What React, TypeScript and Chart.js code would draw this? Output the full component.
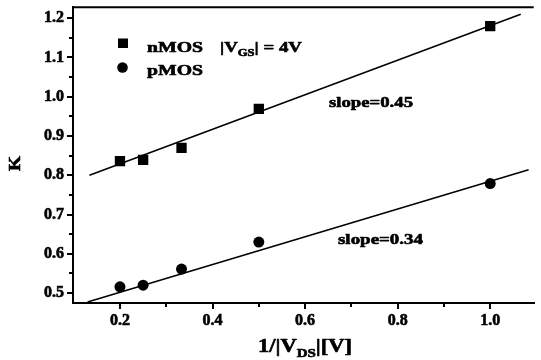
import React, { useEffect, useRef } from "react";
import { Chart, registerables } from "chart.js";

Chart.register(...registerables);

// ---- data ----
const X_VALUES = [0.2, 0.25, 0.333, 0.5, 1.0];
const NMOS_K = [0.836, 0.839, 0.87, 0.969, 1.18];
const PMOS_K = [0.516, 0.52, 0.561, 0.63, 0.779];
const NMOS_FIT_X = [0.134, 1.066];
const NMOS_FIT_K = [0.8, 1.21];
const PMOS_FIT_X = [0.13, 1.083];
const PMOS_FIT_K = [0.477, 0.814];
const X_MAJOR_TICKS = [0.2, 0.4, 0.6, 0.8, 1.0];
const X_MINOR_TICKS = [0.3, 0.5, 0.7, 0.9];
const Y_MAJOR_TICKS = [0.5, 0.6, 0.7, 0.8, 0.9, 1.0, 1.1, 1.2];
const Y_MINOR_TICKS = [0.55, 0.65, 0.75, 0.85, 0.95, 1.05, 1.15];
const X_MIN = 0.0985;
const X_MAX = 1.094;
const Y_MIN = 0.4747;
const Y_MAX = 1.2278;
const SERIES_NAMES = ["nMOS", "pMOS"];
const SLOPE_LABELS = ["slope=0.45", "slope=0.34"];

const FAMILY = "'Liberation Serif', 'Times New Roman', serif";

type Seg = { text: string; size: number; dy: number };

function drawFitted(ctx: CanvasRenderingContext2D, segs: Seg[], x0: number, x1: number, baseline: number) {
  let total = 0;
  const widths: number[] = [];
  for (const s of segs) {
    ctx.font = `bold ${s.size}px ${FAMILY}`;
    const w = ctx.measureText(s.text).width;
    widths.push(w);
    total += w;
  }
  const sx = (x1 - x0) / total;
  ctx.save();
  ctx.translate(x0, baseline);
  ctx.scale(sx, 1);
  ctx.fillStyle = "#000";
  ctx.strokeStyle = "#000";
  ctx.lineWidth = 0.6;
  ctx.lineJoin = "round";
  ctx.textBaseline = "alphabetic";
  ctx.textAlign = "left";
  let x = 0;
  segs.forEach((s, i) => {
    ctx.font = `bold ${s.size}px ${FAMILY}`;
    ctx.fillText(s.text, x, s.dy);
    ctx.strokeText(s.text, x, s.dy);
    x += widths[i];
  });
  ctx.restore();
}

const decorPlugin = {
  id: "decor",
  afterDraw(chart: any) {
    const ctx: CanvasRenderingContext2D = chart.ctx;
    const area = chart.chartArea;
    const xs = chart.scales.x;
    const ys = chart.scales.y;
    ctx.save();
    ctx.strokeStyle = "#000";
    ctx.fillStyle = "#000";
    // top frame line
    ctx.lineWidth = 2;
    ctx.beginPath();
    ctx.moveTo(area.left, area.top);
    ctx.lineTo(area.right, area.top);
    ctx.stroke();
    // minor ticks
    ctx.lineWidth = 2;
    ctx.beginPath();
    for (const v of X_MINOR_TICKS) {
      const px = Math.round(xs.getPixelForValue(v));
      ctx.moveTo(px, area.bottom);
      ctx.lineTo(px, area.bottom + 4);
    }
    for (const v of Y_MINOR_TICKS) {
      const py = Math.round(ys.getPixelForValue(v));
      ctx.moveTo(area.left, py);
      ctx.lineTo(area.left - 4, py);
    }
    ctx.stroke();

    // legend markers
    ctx.fillRect(118, 38.5, 10, 9.5);
    ctx.beginPath();
    ctx.arc(122.5, 67.5, 5.3, 0, Math.PI * 2);
    ctx.fill();

    // legend texts
    drawFitted(ctx, [{ text: SERIES_NAMES[0], size: 15, dy: 0 }], 147, 203, 52);
    drawFitted(ctx, [{ text: SERIES_NAMES[1], size: 15, dy: 0 }], 147, 203, 75);
    drawFitted(
      ctx,
      [
        { text: "|V", size: 15, dy: 0 },
        { text: "GS", size: 10, dy: 4 },
        { text: "| = 4V", size: 15, dy: 0 },
      ],
      220,
      302,
      52
    );
    // slope labels
    drawFitted(ctx, [{ text: SLOPE_LABELS[0], size: 15, dy: 0 }], 329, 413, 107);
    drawFitted(ctx, [{ text: SLOPE_LABELS[1], size: 15, dy: 0 }], 338, 423, 244);

    // x-axis title
    drawFitted(
      ctx,
      [
        { text: "1/|V", size: 18, dy: 0 },
        { text: "DS", size: 12, dy: 5 },
        { text: "|[V]", size: 18, dy: 0 },
      ],
      258,
      352,
      352
    );

    // y-axis title (rotated)
    ctx.save();
    ctx.translate(20, 171);
    ctx.rotate(-Math.PI / 2);
    drawFitted(ctx, [{ text: "K", size: 17, dy: 0 }], 0, 15, 0);
    ctx.restore();

    ctx.restore();
  },
};

const tickFont = { family: FAMILY, size: 16, weight: "bold" as const };

export default function App() {
  const ref = useRef<HTMLCanvasElement | null>(null);

  useEffect(() => {
    if (!ref.current) return;
    const toPts = (xs: number[], ys: number[]) => xs.map((x, i) => ({ x, y: ys[i] }));
    const chart = new Chart(ref.current, {
      type: "scatter",
      data: {
        datasets: [
          {
            label: SERIES_NAMES[0],
            data: toPts(X_VALUES, NMOS_K),
            pointStyle: "rect",
            pointRadius: 7.3,
            backgroundColor: "#000",
            borderColor: "#000",
            borderWidth: 0,
            showLine: false,
          },
          {
            label: SERIES_NAMES[1],
            data: toPts(X_VALUES, PMOS_K),
            pointStyle: "circle",
            pointRadius: 5.5,
            backgroundColor: "#000",
            borderColor: "#000",
            borderWidth: 0,
            showLine: false,
          },
          {
            label: "nMOS fit",
            data: toPts(NMOS_FIT_X, NMOS_FIT_K),
            showLine: true,
            pointRadius: 0,
            borderColor: "#000",
            borderWidth: 1.6,
            fill: false,
          },
          {
            label: "pMOS fit",
            data: toPts(PMOS_FIT_X, PMOS_FIT_K),
            showLine: true,
            pointRadius: 0,
            borderColor: "#000",
            borderWidth: 1.6,
            fill: false,
          },
        ],
      },
      options: {
        responsive: false,
        animation: false,
        devicePixelRatio: 1,
        layout: { padding: { top: 5, left: 0, right: 0, bottom: 0 } },
        plugins: {
          legend: { display: false },
          tooltip: { enabled: false },
          title: { display: false },
        },
        scales: {
          x: {
            type: "linear",
            min: X_MIN,
            max: X_MAX,
            afterBuildTicks: (s: any) => {
              s.ticks = X_MAJOR_TICKS.map((v) => ({ value: v }));
            },
            afterFit: (s: any) => {
              s.height = 57;
              s.paddingLeft = 0;
              s.paddingRight = 0;
            },
            grid: {
              display: true,
              drawOnChartArea: false,
              drawTicks: true,
              tickLength: 6,
              color: "#000",
              lineWidth: 2,
            },
            border: { display: true, color: "#000", width: 2 },
            ticks: {
              color: "#000",
              font: tickFont,
              padding: 2,
              maxRotation: 0,
              autoSkip: false,
              textStrokeColor: "#000",
              textStrokeWidth: 0.6,
              callback: (v: any) => Number(v).toFixed(1),
            },
          },
          y: {
            type: "linear",
            min: Y_MIN,
            max: Y_MAX,
            afterBuildTicks: (s: any) => {
              s.ticks = Y_MAJOR_TICKS.map((v) => ({ value: v }));
            },
            afterFit: (s: any) => {
              s.width = 73;
              s.paddingTop = 0;
              s.paddingBottom = 0;
            },
            grid: {
              display: true,
              drawOnChartArea: false,
              drawTicks: true,
              tickLength: 6,
              color: "#000",
              lineWidth: 2,
            },
            border: { display: true, color: "#000", width: 2 },
            ticks: {
              color: "#000",
              font: tickFont,
              padding: 3,
              autoSkip: false,
              textStrokeColor: "#000",
              textStrokeWidth: 0.6,
              callback: (v: any) => Number(v).toFixed(1),
            },
          },
        },
      },
      plugins: [decorPlugin],
    } as any);
    return () => chart.destroy();
  }, []);

  return (
    <div style={{ position: "absolute", left: 0, top: 0, width: 541, height: 360, background: "#fff" }}>
      <canvas ref={ref} width={541} height={360} style={{ display: "block", width: 541, height: 360 }} />
    </div>
  );
}
